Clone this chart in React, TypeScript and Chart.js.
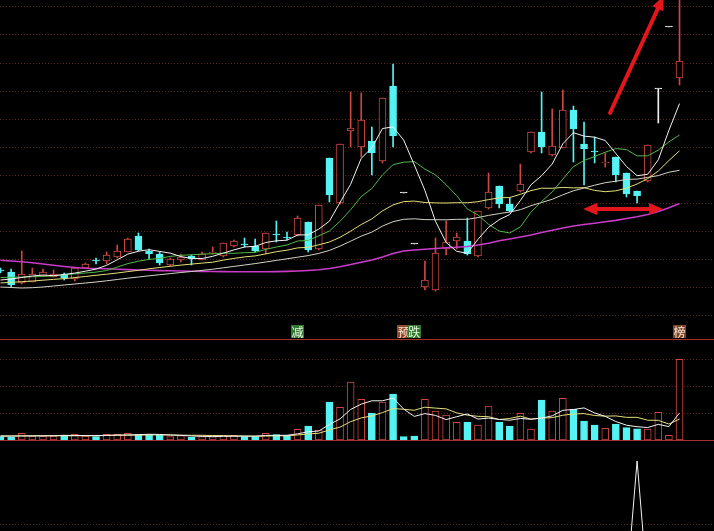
import React, { useEffect, useRef } from 'react';
import { Chart, registerables } from 'chart.js';

Chart.register(...registerables);

// ---------- data ----------
const OPEN = [6.08, 6.06, 5.95, 5.96, 6.02, 6.01, 6.03, 5.99, 6.10, 6.18, 6.17, 6.21, 6.26, 6.42, 6.27, 6.24, 6.13, 6.18, 6.22, 6.18, 6.25, 6.22, 6.32, 6.34, 6.32, 6.29, 6.44, 6.41, 6.43, 6.56, 6.29, 7.20, 6.75, 7.47, 7.31, 7.37, 7.17, 7.92, 6.85, 6.34, 5.91, 5.88, 6.29, 6.37, 6.37, 6.22, 6.70, 6.92, 6.74, 6.87, 7.26, 7.46, 7.23, 7.30, 7.68, 7.34, 7.27, 7.15, 7.21, 7.05, 6.87, 6.97, 7.89, 8.51, 8.00];
const HIGH = [6.10, 6.09, 6.27, 6.10, 6.09, 6.08, 6.05, 6.11, 6.15, 6.20, 6.26, 6.33, 6.40, 6.45, 6.29, 6.26, 6.20, 6.24, 6.23, 6.26, 6.31, 6.35, 6.38, 6.40, 6.39, 6.45, 6.57, 6.46, 6.62, 6.56, 6.73, 7.20, 7.34, 7.86, 7.85, 7.51, 7.80, 8.14, 6.85, 6.34, 6.17, 6.40, 6.57, 6.45, 6.60, 6.67, 7.05, 6.92, 6.80, 7.14, 7.46, 7.86, 7.69, 7.88, 7.72, 7.56, 7.41, 7.25, 7.21, 7.05, 6.87, 7.33, 7.89, 8.51, 8.95];
const LOW = [6.05, 5.91, 5.94, 5.96, 6.02, 6.01, 5.98, 5.97, 6.10, 6.14, 6.14, 6.20, 6.26, 6.27, 6.19, 6.13, 6.12, 6.16, 6.13, 6.18, 6.24, 6.21, 6.31, 6.31, 6.26, 6.24, 6.36, 6.38, 6.42, 6.26, 6.28, 6.76, 6.74, 7.31, 7.21, 7.03, 7.15, 7.31, 6.85, 6.34, 5.88, 5.87, 6.23, 6.29, 6.23, 6.21, 6.69, 6.70, 6.66, 6.86, 7.25, 7.25, 7.22, 7.30, 7.16, 6.93, 7.15, 7.11, 6.96, 6.81, 6.75, 6.96, 7.55, 8.51, 7.93];
const CLOSE = [6.07, 5.93, 6.04, 6.04, 6.06, 6.04, 6.00, 6.10, 6.14, 6.17, 6.23, 6.27, 6.39, 6.28, 6.24, 6.15, 6.19, 6.21, 6.19, 6.24, 6.26, 6.35, 6.37, 6.33, 6.27, 6.45, 6.43, 6.40, 6.60, 6.28, 6.73, 6.83, 7.34, 7.50, 7.58, 7.25, 7.80, 7.42, 6.85, 6.34, 5.98, 6.25, 6.36, 6.41, 6.24, 6.67, 6.86, 6.74, 6.67, 6.94, 7.46, 7.31, 7.32, 7.68, 7.49, 7.29, 7.26, 7.16, 7.03, 6.84, 6.82, 7.33, 7.89, 8.51, 8.17];

const MA5 = [5.980, 5.990, 6.005, 6.020, 6.030, 6.023, 6.036, 6.049, 6.068, 6.089, 6.127, 6.182, 6.239, 6.268, 6.283, 6.266, 6.249, 6.214, 6.196, 6.195, 6.217, 6.249, 6.281, 6.310, 6.317, 6.355, 6.372, 6.378, 6.430, 6.432, 6.489, 6.568, 6.755, 6.937, 7.197, 7.301, 7.495, 7.511, 7.379, 7.131, 6.876, 6.567, 6.355, 6.267, 6.247, 6.386, 6.507, 6.583, 6.635, 6.775, 6.932, 7.023, 7.140, 7.342, 7.453, 7.419, 7.408, 7.375, 7.245, 7.115, 7.023, 7.037, 7.182, 7.477, 7.744];
const MA10 = [6.005, 6.007, 6.010, 6.012, 6.015, 6.022, 6.032, 6.042, 6.050, 6.059, 6.075, 6.109, 6.144, 6.168, 6.186, 6.196, 6.216, 6.227, 6.232, 6.239, 6.242, 6.249, 6.247, 6.253, 6.256, 6.286, 6.310, 6.330, 6.370, 6.375, 6.422, 6.470, 6.567, 6.683, 6.814, 6.895, 7.031, 7.133, 7.158, 7.164, 7.089, 7.031, 6.933, 6.823, 6.689, 6.631, 6.537, 6.469, 6.451, 6.511, 6.659, 6.765, 6.861, 6.989, 7.114, 7.175, 7.215, 7.258, 7.294, 7.284, 7.221, 7.222, 7.279, 7.361, 7.430];
const MA20 = [5.950, 5.957, 5.963, 5.970, 5.978, 5.986, 5.994, 6.004, 6.015, 6.027, 6.038, 6.050, 6.064, 6.077, 6.092, 6.105, 6.117, 6.129, 6.139, 6.149, 6.158, 6.179, 6.196, 6.211, 6.221, 6.241, 6.263, 6.278, 6.301, 6.307, 6.332, 6.360, 6.407, 6.468, 6.535, 6.591, 6.671, 6.731, 6.764, 6.769, 6.755, 6.751, 6.750, 6.753, 6.752, 6.763, 6.784, 6.801, 6.805, 6.837, 6.874, 6.898, 6.897, 6.906, 6.901, 6.903, 6.876, 6.863, 6.872, 6.898, 6.940, 6.994, 7.070, 7.175, 7.272];
const MA30 = [5.910, 5.905, 5.900, 5.903, 5.910, 5.920, 5.930, 5.940, 5.950, 5.960, 5.972, 5.985, 5.998, 6.010, 6.022, 6.033, 6.044, 6.055, 6.065, 6.076, 6.088, 6.102, 6.116, 6.130, 6.144, 6.160, 6.176, 6.192, 6.208, 6.224, 6.246, 6.276, 6.319, 6.368, 6.419, 6.459, 6.519, 6.563, 6.587, 6.592, 6.584, 6.583, 6.582, 6.587, 6.587, 6.604, 6.626, 6.644, 6.660, 6.683, 6.723, 6.755, 6.787, 6.832, 6.872, 6.900, 6.928, 6.953, 6.968, 6.986, 6.989, 7.006, 7.024, 7.058, 7.077];
const MA60 = [6.177, 6.170, 6.163, 6.152, 6.140, 6.127, 6.115, 6.105, 6.098, 6.095, 6.092, 6.088, 6.084, 6.080, 6.077, 6.074, 6.072, 6.070, 6.068, 6.066, 6.065, 6.064, 6.063, 6.063, 6.063, 6.063, 6.064, 6.066, 6.070, 6.075, 6.082, 6.095, 6.113, 6.135, 6.157, 6.180, 6.210, 6.245, 6.270, 6.280, 6.288, 6.295, 6.302, 6.308, 6.315, 6.330, 6.347, 6.372, 6.390, 6.410, 6.430, 6.455, 6.478, 6.500, 6.520, 6.535, 6.548, 6.562, 6.576, 6.595, 6.613, 6.635, 6.665, 6.702, 6.745];

const VOLUME = [1.24, 1.01, 2.51, 1.50, 1.50, 1.50, 1.76, 2.13, 1.50, 1.24, 2.13, 2.13, 2.51, 1.99, 1.99, 1.76, 1.24, 1.61, 1.01, 1.24, 1.24, 1.76, 1.76, 1.24, 1.24, 2.51, 1.99, 1.76, 4.01, 5.24, 3.75, 14.23, 12.25, 21.72, 15.24, 10.00, 14.23, 17.23, 1.24, 1.50, 15.24, 10.86, 9.36, 6.63, 6.74, 5.62, 12.73, 6.74, 5.24, 10.00, 4.12, 14.98, 10.86, 15.62, 11.50, 7.12, 5.62, 4.38, 5.99, 4.61, 4.23, 4.12, 10.37, 1.76, 30.22];
const VOL_MA5 = [1.45, 1.45, 1.50, 1.55, 1.55, 1.60, 1.75, 1.68, 1.68, 1.63, 1.75, 1.83, 1.90, 2.00, 2.15, 2.08, 1.90, 1.72, 1.52, 1.37, 1.27, 1.37, 1.40, 1.45, 1.45, 1.70, 1.75, 1.75, 2.30, 3.10, 3.35, 5.80, 7.90, 11.44, 13.44, 14.69, 14.69, 15.68, 11.59, 8.84, 9.89, 9.21, 7.64, 8.72, 9.77, 7.84, 8.22, 7.69, 7.41, 8.07, 7.77, 8.22, 9.04, 11.12, 11.42, 12.02, 10.14, 8.85, 6.92, 5.54, 4.97, 4.67, 5.86, 5.02, 10.14];
const VOL_MA10 = [1.55, 1.55, 1.56, 1.56, 1.57, 1.57, 1.58, 1.58, 1.59, 1.59, 1.68, 1.79, 1.79, 1.84, 1.89, 1.91, 1.86, 1.81, 1.76, 1.76, 1.67, 1.64, 1.56, 1.49, 1.41, 1.49, 1.56, 1.58, 1.88, 2.28, 2.53, 3.77, 4.82, 6.87, 8.27, 9.02, 10.24, 11.79, 11.51, 11.14, 12.29, 11.95, 11.66, 10.15, 9.30, 8.87, 8.72, 7.67, 8.07, 8.92, 7.80, 8.22, 8.37, 9.27, 9.74, 9.89, 9.18, 8.94, 9.02, 8.48, 8.49, 7.41, 7.36, 5.97, 7.84];

const SIGNAL = [0, 0, 0, 0, 0, 0, 0, 0, 0, 0, 0, 0, 0, 0, 0, 0, 0, 0, 0, 0, 0, 0, 0, 0, 0, 0, 0, 0, 0, 0, 0, 0, 0, 0, 0, 0, 0, 0, 0, 0, 0, 0, 0, 0, 0, 0, 0, 0, 0, 0, 0, 0, 0, 0, 0, 0, 0, 0, 0, 0, 100, 0, 0, 0, 0];

const PRICE_GRID = [5.62, 5.901, 6.182, 6.463, 6.744, 7.025, 7.306, 7.587, 7.868, 8.149, 8.43, 8.711];
const VOL_GRID = [10, 20, 30];
const SIGNAL_GRID = [50];

const LABELS = [
  { index: 28, text: '减', bg: '#2f7a30', fg: '#e6f4dc' },
  { index: 38, text: '预', bg: '#94482a', fg: '#f6e6d6' },
  { index: 39, text: '跌', bg: '#2f7a30', fg: '#e6f4dc' },
  { index: 64, text: '榜', bg: '#7c4428', fg: '#f6e6d6' },
];

const ARROWS = [
  { from: [57.45, 7.65], to: [62.5, 8.82], both: false },
  { from: [54.9, 6.69], to: [62.45, 6.69], both: true },
];

// ---------- styles ----------
const UP = '#cc4741';
const DOWN = '#55f3f3';
const FLAT = '#f0f0f0';
const GRID = '#5c2421';
const PANEL_LINE = '#a8302c';
const ARROW = '#e3161c';

const N = OPEN.length;

function candleColor(i: number) {
  if (CLOSE[i] > OPEN[i]) return UP;
  if (CLOSE[i] < OPEN[i]) return DOWN;
  return FLAT;
}
function volColor(i: number) {
  if (CLOSE[i] > OPEN[i]) return UP;
  if (CLOSE[i] < OPEN[i]) return DOWN;
  return i > 0 && CLOSE[i] < CLOSE[i - 1] ? DOWN : UP;
}
const pts = (arr: number[]) => arr.map((y, i) => ({ x: i, y }));

const X_SCALE: any = {
  type: 'linear',
  min: -0.05,
  max: 67.25,
  display: false,
  offset: false,
  grid: { display: false, offset: false },
};

function yScale(min: number, max: number, grid: number[]): any {
  return {
    type: 'linear',
    position: 'left',
    min,
    max,
    beginAtZero: false,
    afterBuildTicks: (axis: any) => {
      axis.ticks = grid.map((v) => ({ value: v }));
    },
    ticks: { display: false },
    grid: { color: GRID, lineWidth: 1, drawTicks: false },
    border: { display: false, dash: [1, 2] },
  };
}

function lineDs(data: number[], color: string, width = 1): any {
  return {
    type: 'line',
    data: pts(data),
    borderColor: color,
    borderWidth: width,
    pointRadius: 0,
    tension: 0,
    fill: false,
    order: 0,
  };
}

const BASE_OPTIONS: any = {
  responsive: false,
  animation: false,
  devicePixelRatio: 1,
  events: [],
  layout: { padding: 0 },
  plugins: { legend: { display: false }, tooltip: { enabled: false } },
};

const annotatePlugin = {
  id: 'annotate',
  afterDatasetsDraw(chart: any) {
    const { ctx, chartArea } = chart;
    const xs = chart.scales.x;
    const ys = chart.scales.y;
    ctx.save();
    ctx.strokeStyle = ARROW;
    ctx.fillStyle = ARROW;
    ctx.lineWidth = 4;
    ctx.lineCap = 'round';
    const head = (x: number, y: number, ang: number) => {
      const L = 14;
      const W = 6;
      ctx.beginPath();
      ctx.moveTo(x, y);
      ctx.lineTo(x - L * Math.cos(ang) + W * Math.sin(ang), y - L * Math.sin(ang) - W * Math.cos(ang));
      ctx.lineTo(x - L * Math.cos(ang) - W * Math.sin(ang), y - L * Math.sin(ang) + W * Math.cos(ang));
      ctx.closePath();
      ctx.fill();
    };
    for (const a of ARROWS) {
      const x1 = xs.getPixelForValue(a.from[0]);
      const y1 = ys.getPixelForValue(a.from[1]);
      const x2 = xs.getPixelForValue(a.to[0]);
      const y2 = ys.getPixelForValue(a.to[1]);
      const ang = Math.atan2(y2 - y1, x2 - x1);
      const back = 10;
      const sx = a.both ? x1 + back * Math.cos(ang) : x1;
      const sy = a.both ? y1 + back * Math.sin(ang) : y1;
      ctx.beginPath();
      ctx.moveTo(sx, sy);
      ctx.lineTo(x2 - back * Math.cos(ang), y2 - back * Math.sin(ang));
      ctx.stroke();
      head(x2, y2, ang);
      if (a.both) head(x1, y1, ang + Math.PI);
    }
    ctx.font = '12px "Noto Sans CJK SC", "Noto Sans", sans-serif';
    ctx.textAlign = 'center';
    ctx.textBaseline = 'middle';
    for (const l of LABELS) {
      const cx = xs.getPixelForValue(l.index);
      const top = chartArea.bottom - 14;
      ctx.fillStyle = l.bg;
      ctx.fillRect(Math.round(cx - 6.5), top, 13, 13);
      ctx.fillStyle = l.fg;
      ctx.fillText(l.text, cx, top + 7);
    }
    ctx.restore();
  },
};

const panelLinePlugin = {
  id: 'panelLines',
  afterDraw(chart: any) {
    const { ctx, chartArea } = chart;
    const ys = chart.scales.y;
    ctx.save();
    ctx.strokeStyle = PANEL_LINE;
    ctx.lineWidth = 1;
    const y0 = Math.round(ys.getPixelForValue(0)) + 0.5;
    ctx.beginPath();
    ctx.moveTo(chartArea.left, chartArea.top + 0.5);
    ctx.lineTo(chartArea.right, chartArea.top + 0.5);
    ctx.moveTo(chartArea.left, y0);
    ctx.lineTo(chartArea.right, y0);
    ctx.stroke();
    ctx.restore();
  },
};

export default function App() {
  const priceRef = useRef<HTMLCanvasElement>(null);
  const volRef = useRef<HTMLCanvasElement>(null);
  const sigRef = useRef<HTMLCanvasElement>(null);

  useEffect(() => {
    document.body.style.margin = '0';
    document.body.style.background = '#000';
    const idx = Array.from({ length: N }, (_, i) => i);

    const price = new Chart(priceRef.current as HTMLCanvasElement, {
      type: 'bar',
      data: {
        datasets: [
          lineDs(MA5, '#f2f2f2'),
          lineDs(MA10, '#52b848'),
          lineDs(MA20, '#e6df7a'),
          lineDs(MA30, '#d2d2c8'),
          lineDs(MA60, '#c83cc8', 1.6),
          {
            type: 'bar',
            data: idx.map((i) => ({ x: i, y: [Math.min(OPEN[i], CLOSE[i]), Math.max(OPEN[i], CLOSE[i])] })),
            backgroundColor: idx.map((i) => (candleColor(i) === UP ? '#000000' : candleColor(i))),
            borderColor: idx.map((i) => candleColor(i)),
            borderWidth: 1,
            borderSkipped: false,
            barThickness: 7,
            minBarLength: 1,
            grouped: false,
            order: 1,
          },
          {
            type: 'bar',
            data: idx.map((i) => ({ x: i, y: [LOW[i], HIGH[i]] })),
            backgroundColor: idx.map((i) => candleColor(i)),
            borderWidth: 0,
            barThickness: 1,
            grouped: false,
            order: 2,
          },
        ] as any,
      },
      options: {
        ...BASE_OPTIONS,
        scales: { x: X_SCALE, y: yScale(5.39, 8.78, PRICE_GRID) },
      },
      plugins: [annotatePlugin],
    } as any);

    const vol = new Chart(volRef.current as HTMLCanvasElement, {
      type: 'bar',
      data: {
        datasets: [
          lineDs(VOL_MA5, '#f2f2f2'),
          lineDs(VOL_MA10, '#e6df7a'),
          {
            type: 'bar',
            data: idx.map((i) => ({ x: i, y: VOLUME[i] })),
            backgroundColor: idx.map((i) => (volColor(i) === UP ? '#000000' : volColor(i))),
            borderColor: idx.map((i) => volColor(i)),
            borderWidth: 1,
            borderSkipped: false,
            barThickness: 7,
            grouped: false,
            order: 1,
          },
        ] as any,
      },
      options: {
        ...BASE_OPTIONS,
        scales: { x: X_SCALE, y: yScale(-0.375, 37.83, VOL_GRID) },
      },
      plugins: [panelLinePlugin],
    } as any);

    const sig = new Chart(sigRef.current as HTMLCanvasElement, {
      type: 'line',
      data: { datasets: [lineDs(SIGNAL, '#f2f2f2')] as any },
      options: {
        ...BASE_OPTIONS,
        scales: { x: X_SCALE, y: yScale(45.31, 115.63, SIGNAL_GRID) },
      },
    } as any);

    return () => {
      price.destroy();
      vol.destroy();
      sig.destroy();
    };
  }, []);

  return (
    <div style={{ position: 'fixed', left: 0, top: 0, width: 714, height: 531, background: '#000', overflow: 'hidden' }}>
      <canvas ref={priceRef} width={714} height={339} style={{ position: 'absolute', left: 0, top: 0 }} />
      <canvas ref={volRef} width={714} height={102} style={{ position: 'absolute', left: 0, top: 339 }} />
      <canvas ref={sigRef} width={714} height={90} style={{ position: 'absolute', left: 0, top: 441 }} />
    </div>
  );
}
